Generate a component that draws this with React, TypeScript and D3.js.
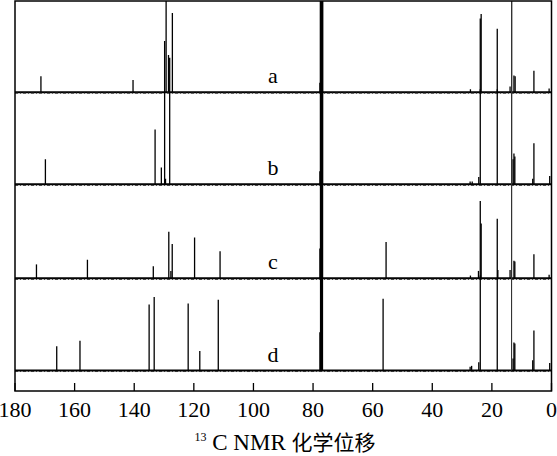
import React from "react";
import * as d3 from "d3";

// ppm axis
const ppmTicks = [180, 160, 140, 120, 100, 80, 60, 40, 20, 0];
const traceNames = ["a", "b", "c", "d"];
// vertical offsets of each trace baseline (intensity units)
const traceOffsets = [321, 222, 121, 22];

// peaks: [ppm, intensity]
const peaksA: [number, number][] = [
  [171.3, 17], [140.4, 13], [129.3, 200], [128.5, 40], [127.2, 85],
  [77.7, 10], [77.16, 500], [27.2, 3], [23.9, 79], [23.6, 84], [18.2, 68],
  [13.9, 6], [13.4, 500], [12.6, 18], [12.2, 17], [5.9, 23], [0.8, 4],
];
const peaksB: [number, number][] = [
  [169.8, 27], [133.0, 59], [130.9, 18], [129.8, 154], [129.5, 6], [128.1, 136],
  [77.7, 14], [77.16, 500], [27.3, 3], [26.6, 3], [24.4, 8], [23.9, 102], [18.2, 102],
  [13.4, 500], [12.9, 27], [12.6, 33], [12.3, 30], [6.3, 6], [5.9, 44], [0.6, 9],
];
const peaksC: [number, number][] = [
  [172.8, 15], [155.7, 20], [133.6, 13], [128.4, 50], [127.7, 8], [127.25, 37],
  [119.75, 44], [111.2, 29], [77.7, 32], [77.16, 500], [55.5, 39], [27.2, 3],
  [24.5, 8], [23.9, 83], [23.6, 59], [18.2, 64], [18.0, 9], [13.9, 9], [13.4, 500],
  [12.6, 19], [12.3, 18], [5.9, 26], [0.8, 4],
];
const peaksD: [number, number][] = [
  [166.0, 26], [158.2, 32], [135.0, 71], [133.3, 79], [121.9, 72], [118.0, 21],
  [111.8, 76], [77.7, 41], [77.16, 500], [56.5, 77], [27.3, 4], [26.8, 5],
  [24.4, 9], [23.9, 102], [18.2, 99], [13.4, 500], [12.9, 13], [12.6, 30],
  [12.3, 29], [6.3, 11], [5.9, 43], [0.6, 8],
];
const allPeaks = [peaksA, peaksB, peaksC, peaksD];

const W = 557;
const H = 456;
const left = 15;
const right = 551.5;
const top = 1;
const bottom = 391;

export default function App() {
  const x = d3.scaleLinear().domain([180, 0]).range([left, right]);
  const y = d3.scaleLinear().domain([0, 420]).range([bottom, 0]);
  const serif = "'Liberation Serif', 'Times New Roman', serif";

  return (
    <svg
      width={W}
      height={H}
      style={{ position: "absolute", left: 0, top: 0, background: "#fff" }}
    >
      <defs>
        <clipPath id="plotclip">
          <rect x={left} y={top} width={right - left} height={bottom - top} />
        </clipPath>
      </defs>
      <g clipPath="url(#plotclip)">
        {allPeaks.map((peaks, i) => {
          const off = traceOffsets[i];
          const y0 = y(off);
          return (
            <g key={i}>
              <line x1={left} x2={right} y1={y0} y2={y0} stroke="#000" strokeWidth={2} />
              <line
                x1={left}
                x2={right}
                y1={y0 + 1}
                y2={y0 + 1}
                stroke="#333"
                strokeWidth={1}
                strokeDasharray="3,2,1,2"
              />
              {peaks.map(([p, h], j) => {
                const isSolvent = Math.abs(p - 77.16) < 0.01;
                const isRef = Math.abs(p - 13.4) < 0.01;
                return (
                  <line
                    key={j}
                    x1={x(p)}
                    x2={x(p)}
                    y1={y0}
                    y2={y(off + h)}
                    stroke={isRef ? "#333" : "#000"}
                    strokeWidth={isSolvent ? 3.2 : isRef ? 1.1 : 1.3}
                  />
                );
              })}
            </g>
          );
        })}
      </g>
      {/* frame */}
      <rect
        x={left}
        y={top}
        width={right - left}
        height={bottom - top}
        fill="none"
        stroke="#000"
        strokeWidth={1.5}
      />
      {/* ticks */}
      {ppmTicks.map((t) => (
        <g key={t}>
          <line x1={x(t)} x2={x(t)} y1={bottom} y2={bottom - 8} stroke="#000" strokeWidth={1.3} />
          <text
            x={x(t)}
            y={417}
            textAnchor="middle"
            fontFamily={serif}
            fontSize={22}
            fill="#000"
          >
            {t}
          </text>
        </g>
      ))}
      {/* trace labels */}
      {traceNames.map((n, i) => (
        <text
          key={n}
          x={273}
          y={y(traceOffsets[i]) - 9}
          textAnchor="middle"
          fontFamily={serif}
          fontSize={22}
          fill="#000"
        >
          {n}
        </text>
      ))}
      {/* axis title */}
      <text x={285} y={450} textAnchor="middle" fontFamily={serif} fontSize={23} fill="#000">
        <tspan fontSize={12} dy={-9}>13</tspan>
        <tspan dy={9}> C NMR </tspan>
        <tspan fontFamily="'Noto Sans CJK SC', sans-serif" fontSize={21}>化学位移</tspan>
      </text>
    </svg>
  );
}
